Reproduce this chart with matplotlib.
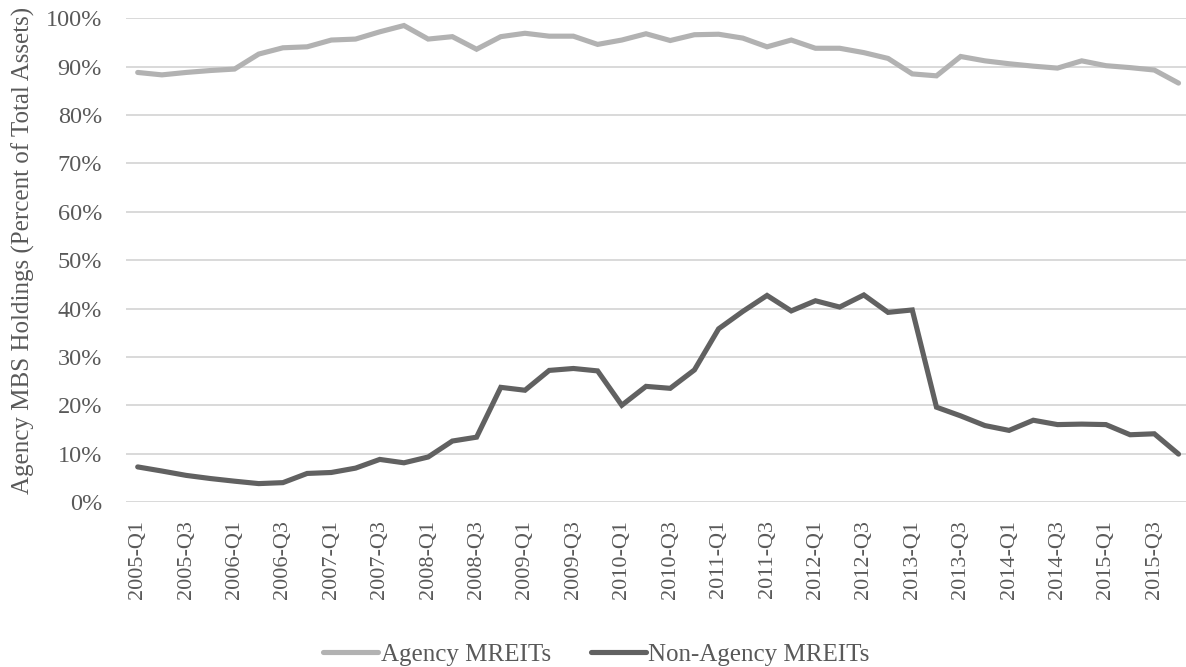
import matplotlib.pyplot as plt
from matplotlib.ticker import PercentFormatter

# quarterly labels 2005-Q1 .. 2015-Q4
quarters = [f"{y}-Q{q}" for y in range(2005, 2016) for q in range(1, 5)]

# Agency MBS as % of total assets
agency = [88.8, 88.3, 88.8, 89.2, 89.5, 92.6, 93.9, 94.1, 95.5, 95.7, 97.2,
          98.5, 95.7, 96.2, 93.6, 96.2, 96.9, 96.3, 96.3, 94.6, 95.5, 96.8,
          95.4, 96.6, 96.7, 95.9, 94.1, 95.5, 93.8, 93.8, 92.9, 91.7, 88.5,
          88.1, 92.1, 91.2, 90.6, 90.1, 89.7, 91.2, 90.2, 89.8, 89.3, 86.6]
non_agency = [7.25, 6.4, 5.5, 4.85, 4.3, 3.8, 4.0, 5.9, 6.1, 7.0, 8.8,
              8.1, 9.3, 12.6, 13.4, 23.7, 23.1, 27.2, 27.6, 27.1, 20.0, 23.9,
              23.5, 27.3, 35.8, 39.4, 42.7, 39.5, 41.6, 40.3, 42.8, 39.2, 39.7,
              19.6, 17.8, 15.8, 14.8, 16.9, 16.0, 16.1, 16.0, 13.9, 14.1, 9.9]

plt.rcParams['font.family'] = ['Liberation Serif', 'DejaVu Serif']
txt = '#595959'

fig = plt.figure(figsize=(11.86, 6.67), dpi=100)
ax = fig.add_axes([0.1059, 0.2474, 0.898, 0.7252])

x = list(range(len(quarters)))
ax.plot(x, agency, color='#b2b2b2', lw=3.7, solid_capstyle='round',
        solid_joinstyle='miter', label='Agency MREITs', zorder=3)
ax.plot(x, non_agency, color='#616161', lw=3.7, solid_capstyle='round',
        solid_joinstyle='miter', label='Non-Agency MREITs', zorder=3)

ax.set_xlim(-0.5, len(quarters) - 0.5)
ax.set_ylim(0, 100)
ax.set_yticks(range(0, 101, 10))
ax.yaxis.set_major_formatter(PercentFormatter(decimals=0))
ax.set_xticks(x[::2])
ax.set_xticklabels(quarters[::2], rotation=90)

ax.grid(axis='y', color='#d9d9d9', lw=1.4)
ax.set_axisbelow(True)
for s in ax.spines.values():
    s.set_visible(False)
ax.tick_params(axis='both', length=0, colors=txt)
ax.tick_params(axis='y', pad=17, labelsize=17.5)
ax.tick_params(axis='x', pad=13, labelsize=16)

ax.set_ylabel('Agency MBS Holdings (Percent of Total Assets)', fontsize=18,
              color=txt)
ax.yaxis.set_label_coords(-0.085, 0.52)

fig.legend(loc='center', bbox_to_anchor=(0.503, 0.018), ncol=2, frameon=False,
           fontsize=18, labelcolor=txt, handlelength=2.2, handletextpad=0.1,
           columnspacing=1.6)

fig.savefig('out.png', dpi=100)
